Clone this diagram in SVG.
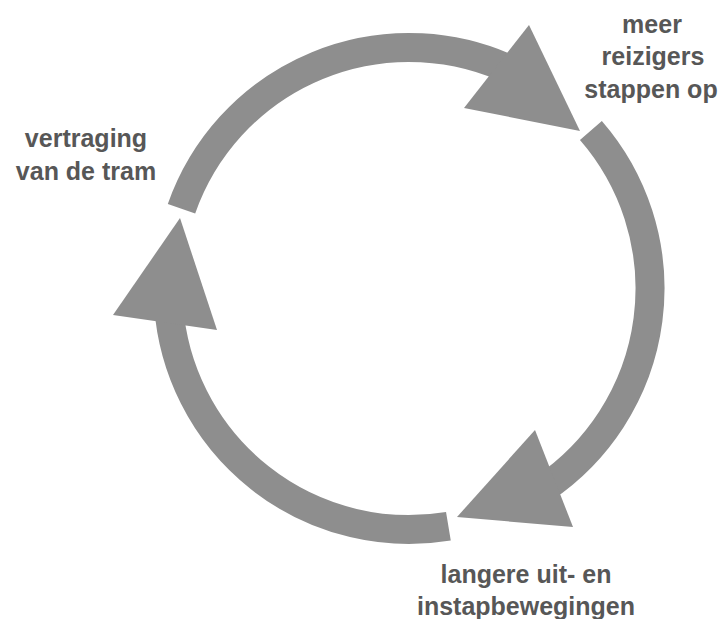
<svg xmlns="http://www.w3.org/2000/svg" width="723" height="619" viewBox="0 0 723 619">
<style>
.arc{fill:none;stroke:#8e8e8e;stroke-width:29;stroke-linecap:butt}
.head{fill:#8e8e8e}
.lbl{font-family:"Liberation Sans",Arial,Helvetica,sans-serif;font-weight:bold;font-size:25px;fill:#575757;text-anchor:middle}
</style>
<rect width="723" height="619" fill="#ffffff"/>
<g id="connectors">
<path class="arc" d="M181.5 208.8 A241 241 0 0 1 514.7 71.9"/>
<polygon class="head" points="580,131 529,25 464,108"/>
<path class="arc" d="M590.9 130.4 A241 241 0 0 1 543.8 488.3"/>
<polygon class="head" points="457,517 535,430 573,527"/>
<path class="arc" d="M448.4 526.3 A241 241 0 0 1 168.6 305.3"/>
<polygon class="head" points="180,218 113,315 217,330"/>
</g>
<g id="node-meer-reizigers">
<text class="lbl" x="652" y="33">meer</text>
<text class="lbl" x="653" y="65">reizigers</text>
<text class="lbl" x="651" y="98">stappen op</text>
</g>
<g id="node-vertraging">
<text class="lbl" x="86" y="147">vertraging</text>
<text class="lbl" x="86" y="180">van de tram</text>
</g>
<g id="node-langere">
<text class="lbl" x="526" y="583">langere uit- en</text>
<text class="lbl" x="526" y="615">instapbewegingen</text>
</g>
</svg>
